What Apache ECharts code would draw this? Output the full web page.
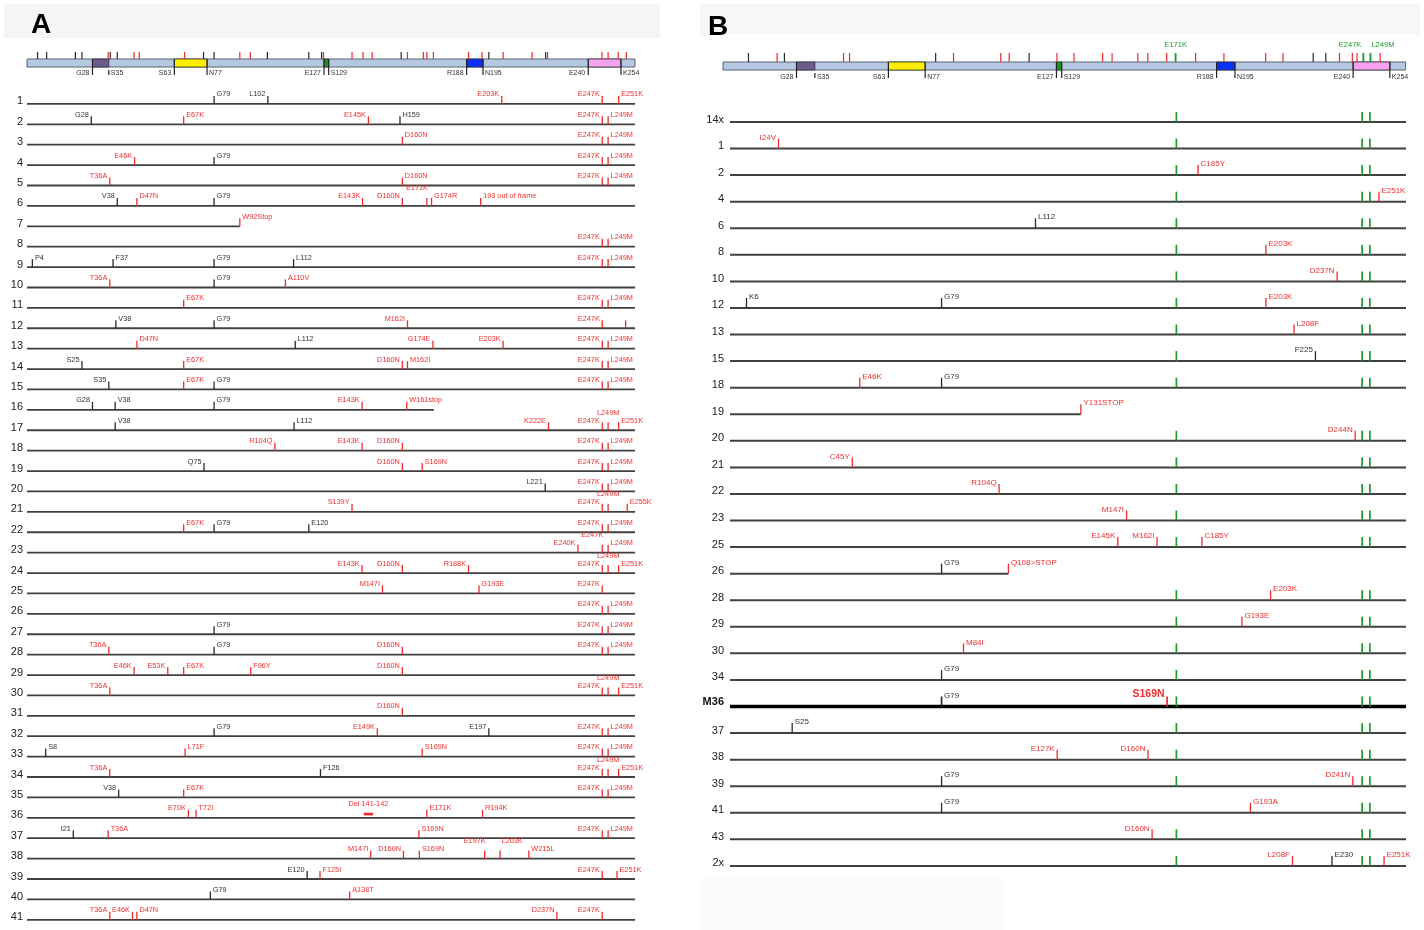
<!DOCTYPE html>
<html><head><meta charset="utf-8">
<script src="https://cdn.jsdelivr.net/npm/echarts@6/dist/echarts.min.js"></script>
<style>html,body{margin:0;padding:0;background:#fff}#c{width:1424px;height:930px}</style>
</head><body><div id="c"></div>
<script>
// ---------------- DATA ----------------
const rowsA = ['1','2','3','4','5','6','7','8','9','10','11','12','13','14','15','16','17','18','19','20','21','22','23','24','25','26','27','28','29','30','31','32','33','34','35','36','37','38','39','40','41'];
const rowsB = ['14x','1','2','4','6','8','10','12','13','15','18','19','20','21','22','23','25','26','28','29','30','34','M36','37','38','39','41','43','2x'];

// protein domains (residue ranges) and boundary residues
const domains = [[28,35],[63,77],[127,129],[188,195],[240,254]];
const boundaries = [[28,'G28','l'],[35,'S35','r'],[63,'S63','l'],[77,'N77','r'],[127,'E127','l'],[129,'S129','r'],[188,'R188','l'],[195,'N195','r'],[240,'E240','l'],[254,'K254','r']];
const proteinLength = 260;

// ticks above the protein bar: [position, kind]  (m = mutation, p = polymorphism, g = reference mutation)
const headerTicksA = [[4.5,'p'],[8.4,'p'],[20.7,'p'],[23.5,'p'],[34.7,'m'],[35.6,'p'],[38.6,'p'],[45.8,'m'],[48,'m'],[67.4,'m'],[75.5,'p'],[80,'p'],[91,'m'],[95.5,'m'],[102.8,'p'],[120.5,'p'],[126,'p'],[126.8,'m'],[139,'m'],[143.7,'m'],[147.6,'m'],[160,'p'],[162.7,'m'],[169.5,'m'],[171,'m'],[173.8,'m'],[188.8,'m'],[194.6,'m'],[197.5,'p'],[203.6,'m'],[216,'m'],[221.8,'p'],[222.6,'m'],[245.9,'m'],[248.5,'m'],[252.8,'m'],[256.3,'m']];
const headerTicksB = [[9.7,'p'],[20.6,'m'],[23.4,'p'],[45.9,'m'],[48.2,'m'],[81,'p'],[87.8,'m'],[105.8,'m'],[109,'m'],[116.6,'p'],[127.2,'m'],[133.7,'m'],[144.6,'m'],[148.2,'m'],[158,'m'],[161.8,'m'],[169,'m'],[172.4,'g'],[180,'m'],[190.8,'m'],[206.7,'m'],[213.3,'m'],[224.8,'p'],[229.6,'p'],[234.8,'m'],[239.7,'m'],[241.5,'m'],[243.9,'g'],[246.6,'g'],[250.3,'m']];
const headerLabelsB = [[172.4,'E171K','c'],[243.9,'E247K','l'],[246.6,'L249M','r']];

// row end positions for truncated sequences
const lineEndA = {'7':91,'16':174};
const lineEndB = {'19':134,'26':105.9};

// markers per row: [position, label, kind, labelSide]
const E247 = [246,'E247K','m','l'], L249 = [248.5,'L249M','m','r'], L249u = [248.5,'L249M','m','uc'], E251 = [253,'E251K','m','r'];
const markersA = [
 [[80,'G79','p','r'],[103,'L102','p','l'],[203,'E203K','m','l'],E247,E251],
 [[27.5,'G28','p','l'],[67,'E67K','m','r'],[146,'E145K','m','l'],[159.5,'H159','p','r'],E247,L249],
 [[160.5,'D160N','m','r'],E247,L249],
 [[46,'E46K','m','l'],[80,'G79','p','r'],E247,L249],
 [[35.4,'T36A','m','l'],[160.5,'D160N','m','r'],E247,L249],
 [[38.6,'V38','p','l'],[47,'D47N','m','r'],[80,'G79','p','r'],[143.5,'E143K','m','l'],[160.5,'D160N','m','l'],[171,'E171K','m','ul'],[173,'G174R','m','r'],[194,'193 out of frame','m','r']],
 [[91,'W92Stop','m','r']],
 [E247,L249],
 [[2.3,'P4','p','r'],[36.8,'F37','p','r'],[80,'G79','p','r'],[114,'L112','p','r'],E247,L249],
 [[35.4,'T36A','m','l'],[80,'G79','p','r'],[110.5,'A110V','m','r']],
 [[67,'E67K','m','r'],E247,L249],
 [[38,'V38','p','r'],[80,'G79','p','r'],[162.7,'M162I','m','l'],E247,[256,'','m','r']],
 [[47,'D47N','m','r'],[114.7,'L112','p','r'],[173.6,'G174E','m','l'],[203.6,'E203K','m','l'],E247,L249],
 [[23.5,'S25','p','l'],[67,'E67K','m','r'],[160.5,'D160N','m','l'],[162.7,'M162I','m','r'],E247,L249],
 [[35,'S35','p','l'],[67,'E67K','m','r'],[80,'G79','p','r'],E247,L249],
 [[28,'G28','p','l'],[37.7,'V38','p','r'],[80,'G79','p','r'],[143.3,'E143K','m','l'],[162.4,'W161stop','m','r']],
 [[37.7,'V38','p','r'],[114.2,'L112','p','r'],[223,'K222E','m','l'],E247,L249u,E251],
 [[106,'R104Q','m','l'],[143.3,'E143K','m','l'],[160.5,'D160N','m','l'],E247,L249],
 [[75.7,'Q75','p','l'],[160.5,'D160N','m','l'],[169,'S169N','m','r'],E247,L249],
 [[221.6,'L221','p','l'],E247,L249],
 [[139,'S139Y','m','l'],E247,L249u,[256.7,'E255K','m','r']],
 [[67,'E67K','m','r'],[80,'G79','p','r'],[120.5,'E120','p','r'],E247,L249],
 [[235.6,'E240K','m','l'],[246,'E247K','m','ul'],L249],
 [[143.3,'E143K','m','l'],[160.5,'D160N','m','l'],[188.8,'R188K','m','l'],E247,L249u,E251],
 [[152,'M147I','m','l'],[193.3,'G193E','m','r'],E247],
 [E247,L249],
 [[80,'G79','p','r'],E247,L249],
 [[35,'T36A','m','l'],[80,'G79','p','r'],[160.5,'D160N','m','l'],E247,L249],
 [[45.8,'E46K','m','l'],[60.2,'E53K','m','l'],[67,'E67K','m','r'],[95.7,'F96Y','m','r'],[160.5,'D160N','m','l']],
 [[35.4,'T36A','m','l'],E247,L249u,E251],
 [[160.5,'D160N','m','l']],
 [[80,'G79','p','r'],[149.8,'E149K','m','l'],[197.5,'E197','p','l'],E247,L249],
 [[8,'S8','p','r'],[67.6,'L71F','m','r'],[169,'S169N','m','r'],E247,L249],
 [[35.4,'T36A','m','l'],[125.5,'F126','p','r'],E247,L249u,E251],
 [[39.2,'V38','p','l'],[67,'E67K','m','r'],E247,L249],
 [[69,'E70K','m','l'],[72.3,'T72I','m','r'],[171,'E171K','m','r'],[194.8,'R194K','m','r']],
 [[19.8,'I21','p','l'],[34.7,'T36A','m','r'],[167.6,'S169N','m','r'],E247,L249],
 [[147,'M147I','m','l'],[161,'D160N','m','l'],[167.8,'S169N','m','r'],[195.7,'E197K','m','ul'],[202.3,'L203K','m','ur'],[214.6,'W215L','m','r']],
 [[119.8,'E120','p','l'],[125.3,'F125I','m','r'],E247,[252.3,'E251K','m','r']],
 [[78.4,'G79','p','r'],[138,'A138T','m','r']],
 [[35.4,'T36A','m','l'],[45.1,'E46K','m','l'],[47,'D47N','m','r'],[226.6,'D237N','m','l'],E247]
];
// deletion in row 36: [row, from, to, label]
const deletionsA = [['36',144,148,'Del 141-142']];

const G171 = [171,'','g','r'], G247 = [243,'','g','r'], G249 = [246,'','g','r'];
const markersB = [
 [G171,G247,G249],
 [[16.8,'I24V','m','l'],G171,G247,G249],
 [G171,[179.4,'C185Y','m','r'],G247,G249],
 [G171,G247,G249,[249.5,'E251K','m','r']],
 [[116.4,'L112','p','r'],G171,G247,G249],
 [G171,[205.7,'E203K','m','r'],G247,G249],
 [G171,[233.3,'D237N','m','l'],G247,G249],
 [[4.4,'K6','p','r'],[80,'G79','p','r'],G171,[205.7,'E203K','m','r'],G247,G249],
 [G171,[216.6,'L208F','m','r'],G247,G249],
 [G171,[224.9,'F225','p','l'],G247,G249],
 [[48.3,'E46K','m','r'],[80,'G79','p','r'],G171,G247,G249],
 [[134,'Y131STOP','m','r']],
 [G171,[240.3,'D244N','m','l'],G247,G249],
 [[45.4,'C45Y','m','l'],G171,G247,G249],
 [[102.3,'R104Q','m','l'],G171,G247,G249],
 [[151.7,'M147I','m','l'],G171,G247,G249],
 [[148.3,'E145K','m','l'],[163.5,'M162I','m','l'],G171,[180.9,'C185Y','m','r'],G247,G249],
 [[80,'G79','p','r'],[105.9,'Q108>STOP','m','r']],
 [G171,[207.5,'E203K','m','r'],G247,G249],
 [G171,[196.4,'G193E','m','r'],G247,G249],
 [[88.5,'M84I','m','r'],G171,G247,G249],
 [[80,'G79','p','r'],G171,G247,G249],
 [[80,'G79','p','r'],[167.4,'S169N','m','l'],G171,G247,G249],
 [[22.1,'S25','p','r'],G171,G247,G249],
 [[124.8,'E127K','m','l'],[160,'D160N','m','l'],G171,G247,G249],
 [[80,'G79','p','r'],G171,[239.4,'D241N','m','l'],G247,G249],
 [[80,'G79','p','r'],[199.7,'G193A','m','r'],G247,G249],
 [[161.6,'D160N','m','l'],G171,G247,G249],
 [G171,[216,'L208F','m','l'],[231.3,'E230','p','r'],G247,G249,[251.5,'E251K','m','r']]
];
const highlightRowB = 'M36';

// ---------------- STYLE ----------------
const FONT = '"Liberation Sans", Arial, sans-serif';
const COL = {m:'#f02a2a', p:'#2a2a2a', g:'#1f9a2a'};
const TXT = {m:'#ee3030', p:'#333333', g:'#1f9a2a'};
const domainColors = ['#6e5a8c','#ffee00','#129a12','#0a30ff','#f7a2ee'];

const chart = echarts.init(document.getElementById('c'), null, {renderer:'canvas'});

function flatten(markers){
  const out=[];
  markers.forEach((list,r)=>list.forEach(m=>out.push({pos:m[0],row:r,label:m[1],kind:m[2],side:m[3]})));
  return out;
}
const flatA = flatten(markersA), flatB = flatten(markersB);

function markerSeries(flat, xi, cfg){
  return {
    type:'custom', xAxisIndex:xi, yAxisIndex:xi, clip:false, silent:true,
    data: flat.map(m=>[m.pos,m.row]),
    renderItem:(params, api)=>{
      const m = flat[params.dataIndex];
      const p = api.coord([api.value(0), api.value(1)]);
      const x=p[0], y=p[1];
      const hl = cfg.rows && cfg.rows[m.row]===highlightRowB;
      const hlText = hl && m.kind==='m';
      const th = cfg.tick;
      const children=[{type:'line',shape:{x1:x,y1:y,x2:x,y2:y-th},style:{stroke:COL[m.kind],lineWidth:(m.kind==='g'||hl)?1.7:1.3}}];
      if(m.label){
        const raised = m.side[0]==='u';
        const s = raised? m.side[1] : m.side;
        let align='left', lx=x+2.5;
        if(s==='l'){align='right'; lx = raised? x+1 : x-2.5;}
        else if(s==='c'){align='center'; lx=x;}
        else if(raised){lx=x+1.5;}
        const ly = y - (raised? cfg.raise : cfg.lab);
        children.push({type:'text',x:lx,y:ly - (hlText?1:0),style:{text:m.label,fill:TXT[m.kind],fontSize: hlText? 10.5: cfg.fs,fontWeight: hlText?'bold':'normal',fontFamily:FONT,align:align,verticalAlign:'middle'}});
      }
      return {type:'group',children};
    }
  };
}

function lineSeries(rows, ends, xi, xmin, xmax, width){
  return {
    type:'custom', xAxisIndex:xi, yAxisIndex:xi, clip:false, silent:true,
    data: rows.map((r,i)=>[ends[r]!==undefined?ends[r]:xmax, i]),
    renderItem:(params, api)=>{
      const r = rows[params.dataIndex];
      const p0 = api.coord([xmin, api.value(1)]), p1 = api.coord([api.value(0), api.value(1)]);
      const hl = r===highlightRowB;
      return {type:'line',shape:{x1:p0[0],y1:p0[1],x2:p1[0],y2:p1[1]},style:{stroke: hl?'#000':'#404040',lineWidth: hl?3.6:width}};
    }
  };
}

function headerSeries(xi, ticks, tickH, labelDy, greenLabels){
  const series=[];
  series.push({type:'custom',xAxisIndex:xi,yAxisIndex:xi,clip:false,silent:true,data:[[0,proteinLength]],
    renderItem:(params,api)=>{
      const a=api.coord([api.value(0),1]), b=api.coord([api.value(1),0]);
      return {type:'rect',shape:{x:a[0],y:a[1],width:b[0]-a[0],height:b[1]-a[1]},style:{fill:'#b4c8e2',stroke:'#5a6470',lineWidth:1}};
    }});
  series.push({type:'custom',xAxisIndex:xi,yAxisIndex:xi,clip:false,silent:true,data:domains,
    renderItem:(params,api)=>{
      const a=api.coord([api.value(0),1]), b=api.coord([api.value(1),0]);
      return {type:'rect',shape:{x:a[0],y:a[1],width:Math.max(2.5,b[0]-a[0]),height:b[1]-a[1]},style:{fill:domainColors[params.dataIndex],stroke:'#333',lineWidth:0.8}};
    }});
  series.push({type:'custom',xAxisIndex:xi,yAxisIndex:xi,clip:false,silent:true,data:boundaries.map(b=>[b[0]]),
    renderItem:(params,api)=>{
      const b=boundaries[params.dataIndex];
      const top=api.coord([api.value(0),1]), bot=api.coord([api.value(0),0]);
      const x=top[0];
      const left = b[2]==='l';
      const y1 = b[1]==='S35' ? bot[1]+3 : top[1];
      return {type:'group',children:[
        {type:'line',shape:{x1:x,y1:y1,x2:x,y2:bot[1]+8},style:{stroke:'#222',lineWidth:1.2}},
        {type:'text',x:left?x-3:x+2,y:bot[1]+labelDy,style:{text:b[1],fill:'#333',fontSize:7,fontFamily:FONT,align:left?'right':'left',verticalAlign:'middle'}}
      ]};
    }});
  series.push({type:'custom',xAxisIndex:xi,yAxisIndex:xi,clip:false,silent:true,data:ticks.map(t=>[t[0]]),
    renderItem:(params,api)=>{
      const t=ticks[params.dataIndex];
      const p=api.coord([api.value(0),1]);
      return {type:'line',shape:{x1:p[0],y1:p[1],x2:p[0],y2:p[1]-tickH},style:{stroke:COL[t[1]],lineWidth:t[1]==='g'?1.8:1.2}};
    }});
  if(greenLabels){
    series.push({type:'custom',xAxisIndex:xi,yAxisIndex:xi,clip:false,silent:true,data:greenLabels.map(t=>[t[0]]),
      renderItem:(params,api)=>{
        const t=greenLabels[params.dataIndex];
        const p=api.coord([api.value(0),1]);
        const al = t[2]==='l'?'right':(t[2]==='r'?'left':'center');
        const dx = t[2]==='l'?-2:(t[2]==='r'?1:0);
        return {type:'text',x:p[0]+dx,y:p[1]-17,style:{text:t[1],fill:COL.g,fontSize:7.5,fontFamily:FONT,align:al,verticalAlign:'middle'}};
      }});
  }
  return series;
}

const catAxis = (gi, data, margin)=>({gridIndex:gi,type:'category',data:data,inverse:true,boundaryGap:true,
  axisLine:{show:false},axisTick:{show:false},splitLine:{show:false},
  axisLabel:{margin:margin,fontSize:11,color:'#222',fontFamily:FONT,padding:[0,0,5,0],
    formatter:(v)=> v===highlightRowB? '{b|'+v+'}' : v, rich:{b:{fontWeight:'bold',fontSize:11,color:'#111',fontFamily:FONT,padding:[0,0,5,0]}}}});

const option = {
  animation:false,
  backgroundColor:'#ffffff',
  graphic:[
    {type:'rect',shape:{x:4,y:4,width:656,height:34},style:{fill:'#f5f5f5'},z:-10},
    {type:'rect',shape:{x:700,y:4,width:720,height:30},style:{fill:'#f7f7f7'},z:-10},
    {type:'rect',shape:{x:700,y:878,width:305,height:52},style:{fill:'#fbfbfb'},z:-10}
  ],
  title:[
    {text:'A',left:26,top:6,textStyle:{fontSize:28,fontWeight:'bold',color:'#000',fontFamily:FONT}},
    {text:'B',left:703,top:8,textStyle:{fontSize:28,fontWeight:'bold',color:'#000',fontFamily:FONT}}
  ],
  grid:[
    {left:27,top:59,width:608,height:8},
    {left:27,top:93.7,width:608,height:842.6},
    {left:723,top:62,width:680,height:8},
    {left:730,top:108.7,width:676,height:770.5}
  ],
  xAxis:[
    {gridIndex:0,type:'value',min:0,max:260,show:false},
    {gridIndex:1,type:'value',min:0,max:260,show:false},
    {gridIndex:2,type:'value',min:0,max:259,show:false},
    {gridIndex:3,type:'value',min:-2,max:260,show:false}
  ],
  yAxis:[
    {gridIndex:0,type:'value',min:0,max:1,show:false},
    catAxis(1, rowsA, 4),
    {gridIndex:2,type:'value',min:0,max:1,show:false},
    catAxis(3, rowsB, 6)
  ],
  series:[]
};

option.series.push(...headerSeries(0, headerTicksA, 7, 6, null));
option.series.push(lineSeries(rowsA, lineEndA, 1, 0, 260, 1.8));
option.series.push(markerSeries(flatA, 1, {tick:8, lab:9.5, raise:17.5, fs:7.3}));
option.series.push({type:'custom',xAxisIndex:1,yAxisIndex:1,clip:false,silent:true,
  data:deletionsA.map(d=>[d[1],rowsA.indexOf(d[0]),d[2]]),
  renderItem:(params,api)=>{
    const d=deletionsA[params.dataIndex];
    const a=api.coord([api.value(0),api.value(1)]), b=api.coord([api.value(2),api.value(1)]);
    return {type:'group',children:[
      {type:'rect',shape:{x:a[0],y:a[1]-5,width:b[0]-a[0],height:2.6},style:{fill:COL.m}},
      {type:'text',x:(a[0]+b[0])/2,y:a[1]-14,style:{text:d[3],fill:TXT.m,fontSize:7.3,fontFamily:FONT,align:'center',verticalAlign:'middle'}}
    ]};
  }});
option.series.push(...headerSeries(2, headerTicksB, 9, 7, headerLabelsB));
option.series.push(lineSeries(rowsB, lineEndB, 3, -2, 260, 2));
option.series.push(markerSeries(flatB, 3, {tick:10, lab:11, raise:19, fs:8, rows:rowsB}));

chart.setOption(option);
</script></body></html>
